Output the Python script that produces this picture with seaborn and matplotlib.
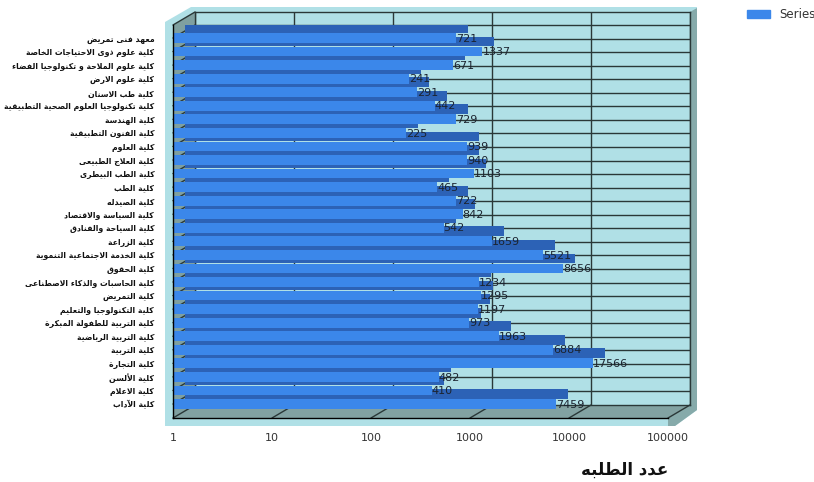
import matplotlib
matplotlib.use("Agg")
import matplotlib.pyplot as plt
from matplotlib.patches import Polygon, Patch, ConnectionPatch
from matplotlib.transforms import ScaledTranslation
import seaborn as sns
import pandas as pd

# data (top to bottom)
colleges = [
    "معهد فنى تمريض",
    "كلية علوم ذوى الاحتياجات الخاصة",
    "كلية علوم الملاحة و تكنولوجيا الفضاء",
    "كلية علوم الارض",
    "كلية طب الاسنان",
    "كلية تكنولوجيا العلوم الصحية التطبيقية",
    "كلية الهندسة",
    "كلية الفنون التطبيقية",
    "كلية العلوم",
    "كلية العلاج الطبيعى",
    "كلية الطب البيطرى",
    "كلية الطب",
    "كلية الصيدله",
    "كلية السياسة والاقتصاد",
    "كلية السياحة والفنادق",
    "كلية الزراعة",
    "كلية الخدمة الاجتماعية التنموية",
    "كلية الحقوق",
    "كلية الحاسبات والذكاء الاصطناعى",
    "كلية التمريض",
    "كلية التكنولوجيا والتعليم",
    "كلية التربية للطفولة المبكرة",
    "كلية التربية الرياضية",
    "كلية التربية",
    "كلية التجارة",
    "كلية الألسن",
    "كلية الاعلام",
    "كلية الآداب",
]
students = [721, 1337, 671, 241, 291, 442, 729, 225, 939, 940, 1103, 465, 722,
            842, 542, 1659, 5521, 8656, 1234, 1295, 1197, 973, 1963, 6884,
            17566, 482, 410, 7459]
x_ticks = [1, 10, 100, 1000, 10000, 100000]
x_title = "عدد الطلبه"
series_name = "Series1"

# --- tiny arabic shaper: matplotlib has no bidi / joining support ---
FORMS = {
    'ء': (0xFE80, 1), 'آ': (0xFE81, 2), 'أ': (0xFE83, 2), 'ؤ': (0xFE85, 2),
    'إ': (0xFE87, 2), 'ئ': (0xFE89, 4), 'ا': (0xFE8D, 2), 'ب': (0xFE8F, 4),
    'ة': (0xFE93, 2), 'ت': (0xFE95, 4), 'ث': (0xFE99, 4), 'ج': (0xFE9D, 4),
    'ح': (0xFEA1, 4), 'خ': (0xFEA5, 4), 'د': (0xFEA9, 2), 'ذ': (0xFEAB, 2),
    'ر': (0xFEAD, 2), 'ز': (0xFEAF, 2), 'س': (0xFEB1, 4), 'ش': (0xFEB5, 4),
    'ص': (0xFEB9, 4), 'ض': (0xFEBD, 4), 'ط': (0xFEC1, 4), 'ظ': (0xFEC5, 4),
    'ع': (0xFEC9, 4), 'غ': (0xFECD, 4), 'ف': (0xFED1, 4), 'ق': (0xFED5, 4),
    'ك': (0xFED9, 4), 'ل': (0xFEDD, 4), 'م': (0xFEE1, 4), 'ن': (0xFEE5, 4),
    'ه': (0xFEE9, 4), 'و': (0xFEED, 2), 'ى': (0xFEEF, 2), 'ي': (0xFEF1, 4),
}
LAM_ALEF = {'آ': 0xFEF5, 'أ': 0xFEF7, 'إ': 0xFEF9, 'ا': 0xFEFB}


def shape(text):
    units = []
    i = 0
    while i < len(text):
        c = text[i]
        if c == 'ل' and i + 1 < len(text) and text[i + 1] in LAM_ALEF:
            units.append((LAM_ALEF[text[i + 1]], 2))
            i += 2
            continue
        units.append(FORMS.get(c, (c, 0)))
        i += 1
    out = []
    for k, (base, n) in enumerate(units):
        if n == 0:
            out.append(base)
            continue
        prev_j = n >= 2 and k > 0 and units[k - 1][1] == 4
        next_j = n == 4 and k + 1 < len(units) and units[k + 1][1] >= 2
        if n == 1:
            form = 0
        elif prev_j and next_j:
            form = 3
        elif prev_j:
            form = 1
        elif next_j:
            form = 2
        else:
            form = 0
        out.append(chr(base + form))
    return ''.join(reversed(out))


sns.set_style("white")
plt.rcParams['font.family'] = ['DejaVu Sans']

W, H = 814, 482
FRONT = "#3b87ea"
TOP = "#2c62b6"
WALL = "#b0e0e6"
SIDE = "#7fa0a0"
GRID = "#2a3838"


def P(x, y):
    return (x / W, 1 - y / H)


fig = plt.figure(figsize=(W / 100, H / 100), dpi=100)
fig.patch.set_facecolor("white")

# box thickness + left wall + floor
fig.add_artist(Polygon([P(165, 22), P(191, 7), P(697, 7), P(697, 410), P(675, 426), P(165, 426)],
                       closed=True, transform=fig.transFigure, fc=WALL, ec="none", zorder=-3))
fig.add_artist(Polygon([P(690, 12), P(697, 8), P(697, 410), P(675, 426), P(668, 426), P(668, 418), P(690, 405)],
                       closed=True, transform=fig.transFigure, fc="#86aaaa", ec="none", zorder=-2))
fig.add_artist(Polygon([P(173, 25), P(195, 12), P(195, 405), P(173, 418)],
                       closed=True, transform=fig.transFigure, fc=SIDE, ec="none", zorder=-2))
fig.add_artist(Polygon([P(173, 418), P(195, 405), P(690, 405), P(668, 418)],
                       closed=True, transform=fig.transFigure, fc="#82a2a2", ec="none", zorder=-2))

ylim = (28.03, -0.96)

# back wall
ax_back = fig.add_axes([195 / W, 1 - 405 / H, 495 / W, 393 / H])
ax_back.set_facecolor(WALL)
ax_back.set_xscale("log")
ax_back.set_xlim(1, 1e5)
ax_back.set_ylim(*ylim)
ax_back.set_xticks(x_ticks)
ax_back.set_yticks(range(len(colleges)))
ax_back.minorticks_off()
ax_back.tick_params(length=0, labelbottom=False, labelleft=False)
ax_back.grid(True, color=GRID, lw=1)
for s in ax_back.spines.values():
    s.set_color(GRID)
    s.set_linewidth(1)
ax_back.set_zorder(0)

# front plane with the bars
ax = fig.add_axes([173 / W, 1 - 418 / H, 495 / W, 393 / H])
ax.set_facecolor("none")
ax.set_zorder(1)

df = pd.DataFrame({"college": [shape(c) for c in colleges], "students": students})


def start_at_one(patches):
    # bars come from 0, which a log axis can't show: start them at the axis floor
    for p in patches:
        right = p.get_x() + p.get_width()
        p.set_x(1)
        p.set_width(right - 1)
        p.set_edgecolor("none")


# darker copy pushed up/right = top face of the 3d bars
sns.barplot(data=df, x="students", y="college", orient="h", color=TOP,
            width=0.72, saturation=1, ax=ax, errorbar=None)
dark = list(ax.patches)
start_at_one(dark)
shift = ScaledTranslation(12 / 100, 10 / 100, fig.dpi_scale_trans)
for p in dark:
    p.set_transform(ax.transData + shift)
sns.barplot(data=df, x="students", y="college", orient="h", color=FRONT,
            width=0.72, saturation=1, ax=ax, errorbar=None)
start_at_one(ax.patches[len(dark):])

ax.set_xscale("log")
ax.set_xlim(1, 1e5)
ax.set_ylim(*ylim)
ax.set_xticks(x_ticks)
ax.set_xticklabels([str(t) for t in x_ticks])
ax.minorticks_off()
ax.set_xlabel("")
ax.set_ylabel("")
ax.tick_params(axis="x", length=5, width=0.8, color="black", labelsize=8,
               labelcolor="#333333", pad=6)
ax.tick_params(axis="y", length=12, width=0.8, color="#222222", labelsize=5.6,
               labelcolor="#111111", pad=1.5)
for lab in ax.get_yticklabels():
    lab.set_fontweight("bold")
for side in ["top", "right"]:
    ax.spines[side].set_visible(False)
for side in ["left", "bottom"]:
    ax.spines[side].set_color("black")
    ax.spines[side].set_linewidth(1)

for i, v in enumerate(students):
    ax.text(float(v), i + 0.05, str(v), ha="left", va="center", fontsize=8, color="#1c2430")

# depth lines between front plane and back wall
depth_pts = [(t, ylim[0]) for t in x_ticks] + [(1, ylim[1])] + [(1, k) for k in range(len(colleges))]
for xy in depth_pts:
    cp = ConnectionPatch(xyA=xy, coordsA=ax.transData, xyB=xy, coordsB=ax_back.transData,
                         color=GRID, lw=1)
    cp.set_zorder(0.5)
    fig.add_artist(cp)

fig.text(668 / W, 1 - 470 / H, shape(x_title), ha="right", va="center", fontsize=12,
         fontweight="bold", color="#111111")

fig.legend(handles=[Patch(color=FRONT, label=series_name)], loc="upper left",
           bbox_to_anchor=(736 / W, 1.005), frameon=False, fontsize=8.5, handlelength=2.0,
           handleheight=0.6, labelcolor="#333333")

fig.savefig("out.png", dpi=100)
